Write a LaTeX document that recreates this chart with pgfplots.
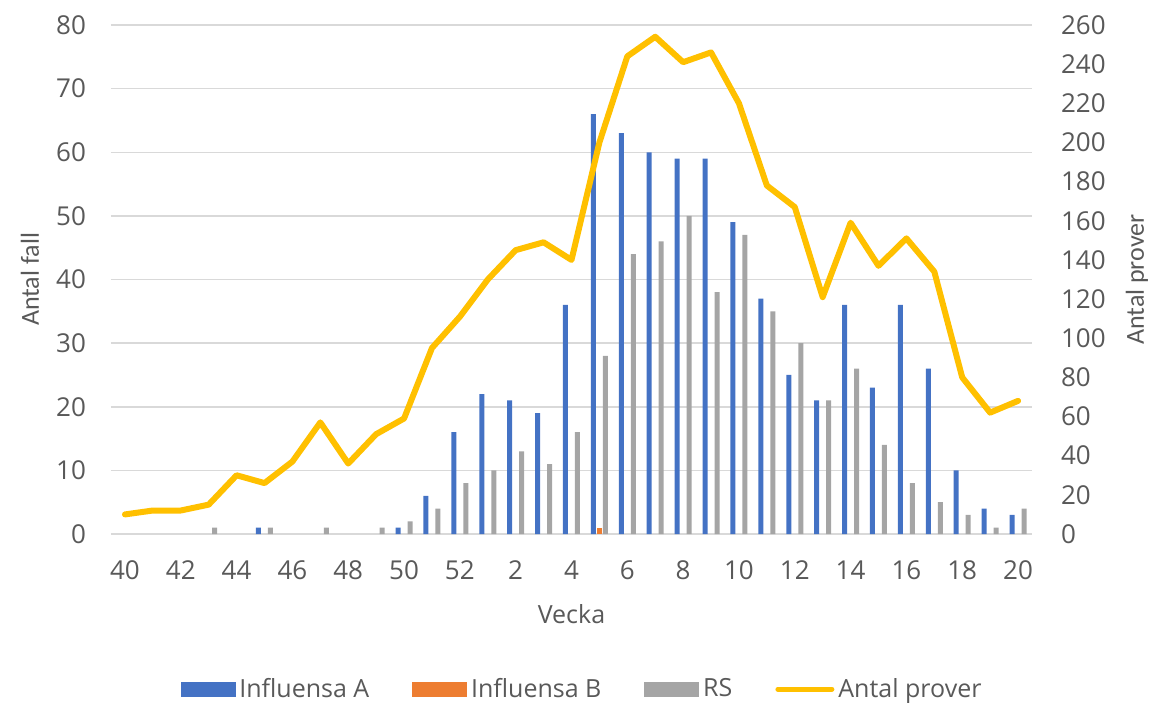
\documentclass[border=0pt]{standalone}
\usepackage{fontspec}
\setmainfont{Open Sans}
\newfontfamily\calib{Carlito}
\usepackage{pgfplots}
\pgfplotsset{compat=1.18}
\definecolor{fluA}{HTML}{4472C4}
\definecolor{fluB}{HTML}{ED7D31}
\definecolor{rsg}{HTML}{A5A5A5}
\definecolor{yel}{HTML}{FFC000}
\definecolor{tick}{HTML}{595959}
\definecolor{gridc}{HTML}{D9D9D9}
\pgfplotsset{
  base/.style={scale only axis, width=460.5pt, height=254.5pt,
    xmin=-0.5, xmax=32.5, major tick length=0pt,
    tick label style={font=\fontsize{13}{15}\selectfont, text=tick},
    /pgf/number format/assume math mode=true},
}
\begin{document}
\begin{tikzpicture}
\useasboundingbox (-55.5pt,-84.5pt) rectangle (521pt,267pt);
\begin{axis}[base, ymin=0, ymax=80, ytick={0,10,...,80},
  ymajorgrids, grid style={draw=gridc, line width=0.75pt},
  axis y line*=left, y axis line style={draw=none},
  axis x line*=bottom, x axis line style={draw=gridc, line width=0.75pt},
  xtick={0,2,...,32},
  xticklabels={40,42,44,46,48,50,52,2,4,6,8,10,12,14,16,18,20},
  yticklabel style={xshift=-9pt}, xticklabel style={yshift=-10pt},
  xlabel={Vecka}, ylabel={Antal fall},
  every axis x label/.style={at={(axis description cs:0.5,0)}, yshift=-40pt, anchor=center,
    font=\fontsize{12.5}{14}\selectfont, text=tick},
  every axis y label/.style={at={(axis description cs:0,0.5)}, xshift=-40.5pt, anchor=center,
    rotate=90, font=\calib\fontsize{13}{15}\selectfont, text=tick},
  ]
  \addplot[ybar, bar width=2.5pt, bar shift=-3pt, fill=fluA, draw=none] coordinates {
    (5,1) (10,1) (11,6) (12,16) (13,22) (14,21) (15,19) (16,36) (17,66) (18,63)
    (19,60) (20,59) (21,59) (22,49) (23,37) (24,25) (25,21) (26,36) (27,23) (28,36)
    (29,26) (30,10) (31,4) (32,3)};
  \addplot[ybar, bar width=2.5pt, bar shift=0pt, fill=fluB, draw=none] coordinates {(17,1)};
  \addplot[ybar, bar width=2.5pt, bar shift=3pt, fill=rsg, draw=none] coordinates {
    (3,1) (5,1) (7,1) (9,1) (10,2) (11,4) (12,8) (13,10) (14,13) (15,11) (16,16)
    (17,28) (18,44) (19,46) (20,50) (21,38) (22,47) (23,35) (24,30) (25,21) (26,26)
    (27,14) (28,8) (29,5) (30,3) (31,1) (32,4)};
\end{axis}
\begin{axis}[base, ymin=0, ymax=260, ytick={0,20,...,260},
  axis y line*=right, y axis line style={draw=none},
  axis x line=none, xtick=\empty,
  yticklabel style={xshift=11pt},
  ylabel={Antal prover},
  every axis y label/.style={at={(axis description cs:1,0.5)}, xshift=52.5pt, anchor=center,
    rotate=90, font=\calib\fontsize{13}{15}\selectfont, text=tick},
  legend style={at={(axis description cs:0.5125,-0.305)}, anchor=center, draw=none, fill=none,
    legend columns=-1, font=\fontsize{12.5}{14}\selectfont, text=tick,
    /tikz/every even column/.append style={column sep=19.5pt}},
  ]
  \addlegendimage{legend image code/.code={\fill[fluA] (0pt,-3.5pt) rectangle (27pt,3.5pt);}}
  \addlegendentry{Influensa A}
  \addlegendimage{legend image code/.code={\fill[fluB] (0pt,-3.5pt) rectangle (27pt,3.5pt);}}
  \addlegendentry{Influensa B}
  \addlegendimage{legend image code/.code={\fill[rsg] (0pt,-3.5pt) rectangle (27pt,3.5pt);}}
  \addlegendentry{RS}
  \addplot[yel, line width=3pt, line join=round, line cap=round,
    legend image code/.code={\draw[yel, line width=2.5pt, line cap=round] (1pt,0pt) -- (28pt,0pt);}]
    coordinates {
    (0,10) (1,12) (2,12) (3,15) (4,30) (5,26) (6,37) (7,57) (8,36) (9,51) (10,59)
    (11,95) (12,111) (13,130) (14,145) (15,149) (16,140) (17,200) (18,244) (19,254)
    (20,241) (21,246) (22,220) (23,178) (24,167) (25,121) (26,159) (27,137) (28,151)
    (29,134) (30,80) (31,62) (32,68)};
  \addlegendentry{Antal prover}
\end{axis}
\end{tikzpicture}
\end{document}
